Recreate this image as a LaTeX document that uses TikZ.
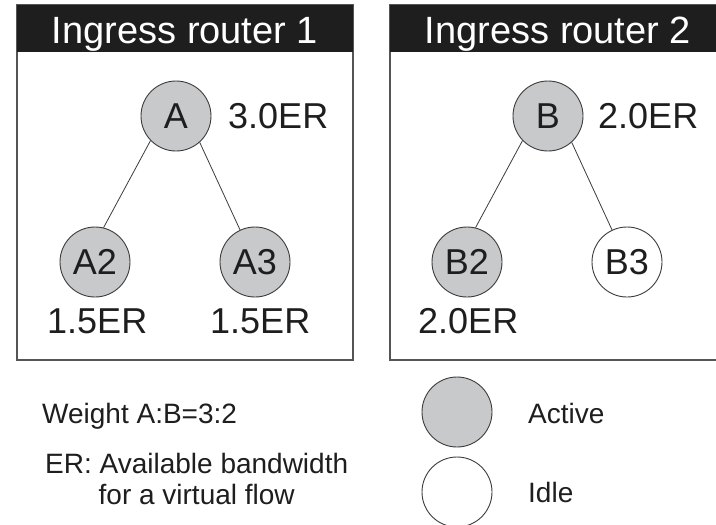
\documentclass[tikz,border=0pt]{standalone}
\usepackage{fontspec}
\setmainfont{Liberation Sans}
\definecolor{ink}{RGB}{30,30,30}
\definecolor{actfill}{RGB}{200,201,203}
\definecolor{edge}{RGB}{60,60,60}
\definecolor{boxline}{RGB}{85,85,85}
\begin{document}
\begin{tikzpicture}[x=1pt,y=-1pt,
  nd/.style={circle,draw=edge,line width=0.9pt,minimum size=70pt,inner sep=0pt,text=ink,font=\fontsize{36}{40}\selectfont},
  active/.style={nd,fill=actfill},
  idle/.style={nd,fill=white},
  lbl/.style={anchor=base west,inner sep=0pt,text=ink,font=\fontsize{36}{40}\selectfont},
  small/.style={anchor=base west,inner sep=0pt,text=ink,font=\fontsize{28}{31}\selectfont},
  title/.style={anchor=base,inner sep=0pt,text=white,font=\fontsize{38}{42}\selectfont},
  panel/.style={draw=boxline,line width=1.3pt,fill=white},
  bar/.style={fill=ink},
  link/.style={draw=edge,line width=0.8pt}]
\clip (0,0) rectangle (716,525);
\fill[white] (0,0) rectangle (716,525);
% panels
\path[panel] (17,5) rectangle (353,360);
\path[bar] (17,5) rectangle (353,52);
\path[panel] (390,5) rectangle (730,360);
\path[bar] (390,5) rectangle (730,52);
\node[title] (t1) at (185,43) {Ingress router 1};
\node[title] (t2) at (558,43) {Ingress router 2};
% tree 1
\node[active] (A) at (176,116) {A};
\node[active] (A2) at (95,262) {A2};
\node[active] (A3) at (255,262) {A3};
\draw[link] (A.224) -- (A2.76);
\draw[link] (A.312) -- (A3.115);
\node[lbl] (lA) at (228,128) {3.0ER};
\node[lbl] (lA2) at (47,333) {1.5ER};
\node[lbl] (lA3) at (210,333) {1.5ER};
% tree 2
\node[active] (B) at (548,116) {B};
\node[active] (B2) at (467,262) {B2};
\node[idle] (B3) at (627,262) {B3};
\draw[link] (B.224) -- (B2.76);
\draw[link] (B.312) -- (B3.115);
\node[lbl] (lB) at (598,128) {2.0ER};
\node[lbl] (lB2) at (418,333) {2.0ER};
% legend
\node[small] (w) at (42,423) {Weight A:B=3:2};
\node[small,align=center] (er) at (45,504) {ER: Available bandwidth\\for a virtual flow};
\node[active,minimum size=70pt] (la) at (457,412) {};
\node[idle,minimum size=70pt] (li) at (457,492) {};
\node[small] (ta) at (528,423) {Active};
\node[small] (ti) at (528,502) {Idle};
\end{tikzpicture}
\end{document}
